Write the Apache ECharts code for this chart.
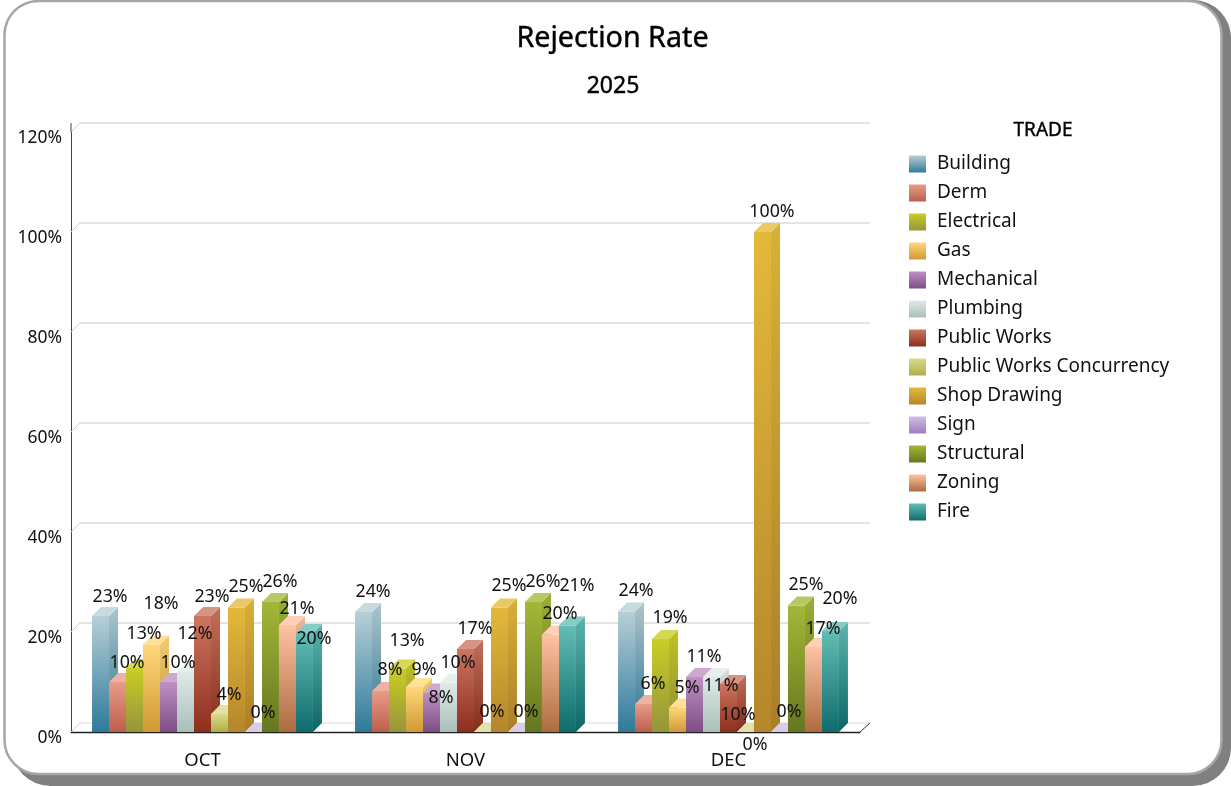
<!DOCTYPE html>
<html>
<head>
<meta charset="utf-8">
<style>html,body{margin:0;padding:0;background:#fff}#c{width:1231px;height:786px}</style>
<script src="https://cdn.jsdelivr.net/npm/echarts@6/dist/echarts.min.js"></script>
</head>
<body>
<div id="c"></div>
<script>
const months = ['OCT', 'NOV', 'DEC'];
const building = [23.2, 24, 24.1];
const derm = [10, 8.2, 5.6];
const electrical = [12.8, 12.7, 18.6];
const gas = [17.5, 9, 4.9];
const mechanical = [10, 7.9, 11];
const plumbing = [12, 9.9, 11];
const publicWorks = [23.2, 16.6, 9.6];
const concurrency = [3.6, 0, 0];
const shopDrawing = [24.9, 24.9, 100];
const sign = [0, 0, 0];
const structural = [26, 26, 25.3];
const zoning = [21.4, 19.5, 17];
const fire = [19.8, 21.3, 20.2];
const yTicks = [0, 20, 40, 60, 80, 100, 120];

const trades = [
  ['Building', building, '#B6CFD6', '#2E7A9C'],
  ['Derm', derm, '#E89C8A', '#BC5F4A'],
  ['Electrical', electrical, '#CACD24', '#95953C'],
  ['Gas', gas, '#FFD77A', '#CF9A33'],
  ['Mechanical', mechanical, '#BF90C2', '#7D4E85'],
  ['Plumbing', plumbing, '#E0EAE8', '#A9BFB9'],
  ['Public Works', publicWorks, '#CC7560', '#8E2F1E'],
  ['Public Works Concurrency', concurrency, '#DADA8A', '#AFAE48'],
  ['Shop Drawing', shopDrawing, '#E3B93A', '#B5862B'],
  ['Sign', sign, '#D0BEE2', '#9D7DBE'],
  ['Structural', structural, '#A3B838', '#66761F'],
  ['Zoning', zoning, '#FFC2A3', '#AD6B3F'],
  ['Fire', fire, '#62BDB5', '#0E6C6C']
];

// layout nudges for value labels (px), as the original chart staggers them to avoid collisions
const labelNudge = [
  [0, 0, -15, -21, 0, -19, 0, 0, -1, 0, -1, 3, 25],
  [-1, -2, -8, 2, 25, 0, -1, -1, -2, -1, -1, -1, -20],
  [-1, -1, -2, 0, -1, 28, 50, 32, -1, -1, -1, 1, -13]
];

const DEPTH = 9;
const FONT = '"Noto Sans", sans-serif';

function mix(hex, target, t) {
  const n = parseInt(hex.slice(1), 16);
  const c = [(n >> 16) & 255, (n >> 8) & 255, n & 255].map(v => Math.round(v + (target - v) * t));
  return 'rgb(' + c.join(',') + ')';
}
function grad(a, b) {
  return new echarts.graphic.LinearGradient(0, 0, 0, 1, [{ offset: 0, color: a }, { offset: 1, color: b }]);
}

function barRenderer(idx, top, bottom) {
  return function (params, api) {
    const cat = api.value(0), val = api.value(1);
    const band = api.size([1, 0])[0];
    const w = band * 0.84 / trades.length;
    const base = api.coord([cat, 0]);
    const tip = api.coord([cat, val]);
    const x0 = base[0] + (idx - trades.length / 2) * w;
    const x1 = x0 + w;
    const y0 = base[1], y1 = tip[1];
    const children = [];
    if (val > 0) {
      children.push({
        type: 'polygon',
        shape: { points: [[x1, y1], [x1 + DEPTH, y1 - DEPTH], [x1 + DEPTH, y0 - DEPTH], [x1, y0]] },
        style: { fill: grad(mix(top, 0, 0.05), mix(bottom, 0, 0.06)) }
      });
      children.push({
        type: 'rect',
        shape: { x: x0, y: y1, width: w, height: y0 - y1 },
        style: { fill: grad(top, bottom) }
      });
    }
    children.push({
      type: 'polygon',
      shape: { points: [[x0, y1], [x0 + DEPTH, y1 - DEPTH], [x1 + DEPTH, y1 - DEPTH], [x1, y1]] },
      style: { fill: mix(top, 255, 0.22) }
    });
    children.push({
      type: 'text',
      z2: 100,
      x: (x0 + x1) / 2 + DEPTH + 0.5,
      y: y1 - 19.5 + labelNudge[cat][idx],
      style: {
        text: Math.round(val) + '%',
        fill: '#111',
        font: '17.8px ' + FONT,
        textAlign: 'center',
        textVerticalAlign: 'middle'
      }
    });
    return { type: 'group', children: children };
  };
}

function wallRenderer(params, api) {
  const v = api.value(1);
  const band = api.size([1, 0])[0];
  const a = api.coord([0, v]);
  const ax = a[0] - band / 2, ay = a[1], bx = ax + band * months.length;
  const children = [
    { type: 'line', shape: { x1: ax, y1: ay, x2: ax + DEPTH, y2: ay - DEPTH }, style: { stroke: '#cfcfcf', lineWidth: 1 } },
    { type: 'line', shape: { x1: ax + DEPTH, y1: ay - DEPTH, x2: bx + DEPTH + 1, y2: ay - DEPTH }, style: { stroke: v === 0 ? '#d8d8d8' : '#c8c8c8', lineWidth: 1 } }
  ];
  if (v === 0) {
    children.push({ type: 'line', shape: { x1: bx, y1: ay, x2: bx + DEPTH + 1, y2: ay - DEPTH }, style: { stroke: '#333', lineWidth: 1 } });
  }
  if (v === 120) {
    children.push({ type: 'line', shape: { x1: ax, y1: ay, x2: ax, y2: ay - DEPTH }, style: { stroke: '#444', lineWidth: 1 } });
  }
  return { type: 'group', children: children };
}

const series = [{
  type: 'custom',
  name: 'wall',
  silent: true,
  coordinateSystem: 'cartesian2d',
  renderItem: wallRenderer,
  encode: { x: 0, y: 1 },
  data: yTicks.map(v => [0, v]),
  clip: false,
  z: 1
}].concat(trades.map((t, i) => ({
  type: 'custom',
  name: t[0],
  coordinateSystem: 'cartesian2d',
  renderItem: barRenderer(i, t[2], t[3]),
  encode: { x: 0, y: 1 },
  itemStyle: { color: grad(t[2], t[3]) },
  data: months.map((m, k) => [k, t[1][k]]),
  z: 2
})));

const chart = echarts.init(document.getElementById('c'), null, { renderer: 'canvas' });
chart.setOption({
  animation: false,
  backgroundColor: '#fff',
  title: [
    { text: 'Rejection Rate', left: 607.5, top: 19, textAlign: 'center',
      textStyle: { fontFamily: FONT, fontSize: 28.7, fontWeight: 'normal', color: '#000', textBorderColor: '#000', textBorderWidth: 0.4 } },
    { text: '2025', left: 608, top: 70, textAlign: 'center',
      textStyle: { fontFamily: FONT, fontSize: 23, fontWeight: 'normal', color: '#000', textBorderColor: '#000', textBorderWidth: 0.4 } },
    { text: 'TRADE', left: 1038, top: 116, textAlign: 'center',
      textStyle: { fontFamily: FONT, fontSize: 19, fontWeight: 'normal', color: '#000', textBorderColor: '#000', textBorderWidth: 0.4 } }
  ],
  grid: { left: 71, right: 371, top: 132, bottom: 54, containLabel: false },
  xAxis: {
    type: 'category',
    data: months,
    axisLine: { lineStyle: { color: '#222', width: 1.3 } },
    axisTick: { show: false },
    axisLabel: { color: '#111', fontFamily: FONT, fontSize: 18.5, margin: 19 },
    splitLine: { show: false }
  },
  yAxis: {
    type: 'value',
    min: 0, max: 120, interval: 20,
    axisLine: { show: true, lineStyle: { color: '#444', width: 1 } },
    axisTick: { show: false },
    axisLabel: { color: '#111', fontFamily: FONT, fontSize: 17.5, margin: 9, verticalAlign: 'top', lineHeight: 12, formatter: '{value}%' },
    splitLine: { show: false }
  },
  legend: {
    orient: 'vertical',
    left: 909, top: 154.5,
    icon: 'rect',
    itemWidth: 17, itemHeight: 17, itemGap: 10,
    selectedMode: false,
    padding: 0,
    textStyle: { color: '#111', fontFamily: FONT, fontSize: 19, lineHeight: 17, padding: [0, 0, 0, 6] },
    data: trades.map(t => t[0])
  },
  graphic: {
    elements: [
      { type: 'rect', silent: true, z: -20, shape: { x: 12, y: 0, width: 1219, height: 786, r: 38 }, style: { fill: '#808080' } },
      { type: 'rect', silent: true, z: -19, shape: { x: 4.5, y: 1, width: 1217, height: 773, r: 34 }, style: { fill: '#fff', stroke: '#a6a6a6', lineWidth: 2.5 } }
    ]
  },
  series: series
});
</script>
</body>
</html>
